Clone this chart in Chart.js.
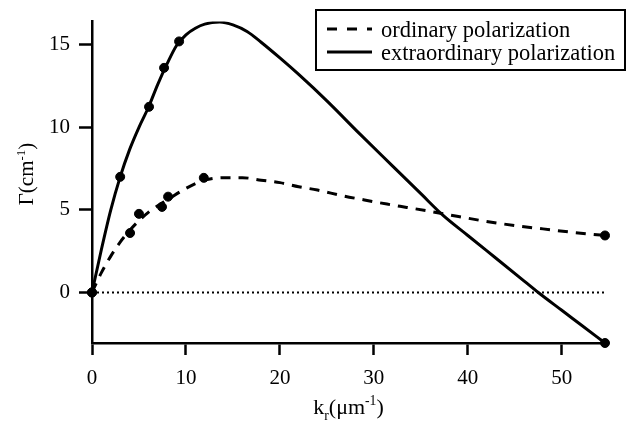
<!DOCTYPE html>
<html>
<head>
<meta charset="utf-8">
<script src="https://cdn.jsdelivr.net/npm/chart.js@4/dist/chart.umd.min.js"></script>
<style>body{margin:0;background:#fff}</style>
</head>
<body>
<canvas id="myChart" width="628" height="424"></canvas>
<script>
// tick values on the axes
const xTicks = [0, 10, 20, 30, 40, 50];
const yTicks = [0, 5, 10, 15];

// measured points (dots)
const ordX = [0, 4.05, 5.0, 7.45, 8.1, 11.9, 54.6];
const ordY = [0, 3.6, 4.76, 5.18, 5.8, 6.94, 3.45];
const extX = [0, 3.0, 6.07, 7.67, 9.27, 54.6];
const extY = [0, 7.0, 11.24, 13.6, 15.2, -3.06];

// fitted curves
const ordCurveX = [0, 1, 2, 3, 4, 5, 6, 7, 8, 10, 12, 14, 16, 18, 20, 22, 24, 26.7, 29, 31.4, 33.5, 35.7, 39, 42, 45, 48, 51, 54.6];
const ordCurveY = [0, 1.2, 2.2, 3.05, 3.75, 4.35, 4.85, 5.25, 5.6, 6.3, 6.8, 6.95, 6.95, 6.8, 6.65, 6.4, 6.2, 5.85, 5.6, 5.35, 5.15, 4.94, 4.6, 4.3, 4.05, 3.85, 3.65, 3.45];
const extCurveX = [0, 1, 2, 3, 4, 5, 6, 7, 8, 9, 10, 11, 12, 13.6, 15, 16.5, 18, 20, 22, 25, 28.5, 32, 35, 37.4, 40, 43, 46, 47.5, 50, 52, 54.6];
const extCurveY = [0, 2.6, 5.0, 7.0, 8.65, 10.0, 11.2, 12.6, 13.85, 14.95, 15.6, 16.0, 16.25, 16.37, 16.2, 15.8, 15.15, 14.2, 13.2, 11.6, 9.6, 7.65, 5.98, 4.65, 3.45, 2.07, 0.69, 0.0, -1.08, -1.94, -3.06];

const zeroX = [0, 54.6];
const zeroY = [0, 0];

const labels = ['ordinary polarization', 'extraordinary polarization'];

function pts(xs, ys) {
    return xs.map((x, i) => ({x: x, y: ys[i]}));
}

Chart.defaults.font.family = "'Liberation Serif', 'Times New Roman', serif";
Chart.defaults.color = '#000';

const FONT = "'Liberation Serif', 'Times New Roman', serif";

// draw text with sub / superscripts
function richText(ctx, parts, x, y, size) {
    let w = 0;
    parts.forEach(p => {
        ctx.font = (p.s ? size * 0.62 : size) + 'px ' + FONT;
        p.w = ctx.measureText(p.t).width;
        w += p.w;
    });
    let cx = x - w / 2;
    parts.forEach(p => {
        ctx.font = (p.s ? size * 0.62 : size) + 'px ' + FONT;
        ctx.fillText(p.t, cx, y + (p.s === 'sub' ? size * 0.25 : p.s === 'sup' ? -size * 0.4 : 0));
        cx += p.w;
    });
}

const decor = {
    id: 'decor',
    afterDraw(chart) {
        const ctx = chart.ctx;
        const area = chart.chartArea;
        ctx.save();
        ctx.fillStyle = '#000';
        ctx.textAlign = 'left';
        ctx.textBaseline = 'alphabetic';
        // x title
        richText(ctx, [{t: 'k'}, {t: 'r', s: 'sub'}, {t: '(\u03bcm'}, {t: '-1', s: 'sup'}, {t: ')'}], (area.left + area.right) / 2, 414, 22);
        // y title
        ctx.save();
        ctx.translate(33, 174);
        ctx.rotate(-Math.PI / 2);
        richText(ctx, [{t: '\u0393(cm'}, {t: '-1', s: 'sup'}, {t: ')'}], 0, 0, 21);
        ctx.restore();

        // legend
        ctx.lineWidth = 2;
        ctx.strokeStyle = '#000';
        ctx.strokeRect(316, 10, 309, 60);
        ctx.lineWidth = 3;
        ctx.setLineDash([10, 10]);
        ctx.beginPath(); ctx.moveTo(327, 29); ctx.lineTo(372, 29); ctx.stroke();
        ctx.setLineDash([]);
        ctx.beginPath(); ctx.moveTo(327, 52); ctx.lineTo(372, 52); ctx.stroke();
        ctx.font = '22.5px ' + FONT;
        ctx.fillText(labels[0], 381, 37);
        ctx.fillText(labels[1], 381, 60);
        ctx.restore();
    }
};

const data = {
    datasets: [{
        data: pts(zeroX, zeroY),
        showLine: true,
        borderColor: '#000',
        borderWidth: 2,
        borderDash: [2, 3],
        pointRadius: 0
    },
    {
        label: labels[0],
        data: pts(ordCurveX, ordCurveY),
        showLine: true,
        borderColor: '#000',
        borderWidth: 3,
        borderDash: [10, 8],
        cubicInterpolationMode: 'monotone',
        pointRadius: 0
    },
    {
        label: labels[1],
        data: pts(extCurveX, extCurveY),
        showLine: true,
        borderColor: '#000',
        borderWidth: 3,
        cubicInterpolationMode: 'monotone',
        pointRadius: 0
    },
    {
        data: pts(ordX, ordY),
        showLine: false,
        clip: false,
        pointRadius: 4.5,
        backgroundColor: '#000',
        borderColor: '#000'
    },
    {
        data: pts(extX, extY),
        showLine: false,
        clip: false,
        pointRadius: 4.5,
        backgroundColor: '#000',
        borderColor: '#000'
    }]
};

const config = {
    type: 'scatter',
    data: data,
    options: {
        responsive: false,
        animation: false,
        devicePixelRatio: 1,
        layout: {padding: {left: 0, top: 13, right: 23, bottom: 0}},
        plugins: {legend: {display: false}, tooltip: {enabled: false}},
        scales: {
            x: {
                type: 'linear',
                min: 0,
                max: 54.6,
                afterBuildTicks: s => { s.ticks = xTicks.map(v => ({value: v})); },
                afterFit: s => { s.height = 81; },
                ticks: {font: {size: 21}, padding: 11, maxRotation: 0},
                grid: {drawOnChartArea: false, tickLength: 12, tickWidth: 2.5, tickColor: '#000'},
                border: {display: true, color: '#000', width: 2.5}
            },
            y: {
                type: 'linear',
                min: -3.06,
                max: 16.4,
                afterBuildTicks: s => { s.ticks = yTicks.map(v => ({value: v})); },
                afterFit: s => { s.width = 92; },
                ticks: {font: {size: 21}, padding: 9},
                grid: {drawOnChartArea: false, tickLength: 13, tickWidth: 2.5, tickColor: '#000'},
                border: {display: true, color: '#000', width: 2.5}
            }
        }
    },
    plugins: [decor]
};

const myChart = new Chart(document.getElementById('myChart'), config);
</script>
</body>
</html>
